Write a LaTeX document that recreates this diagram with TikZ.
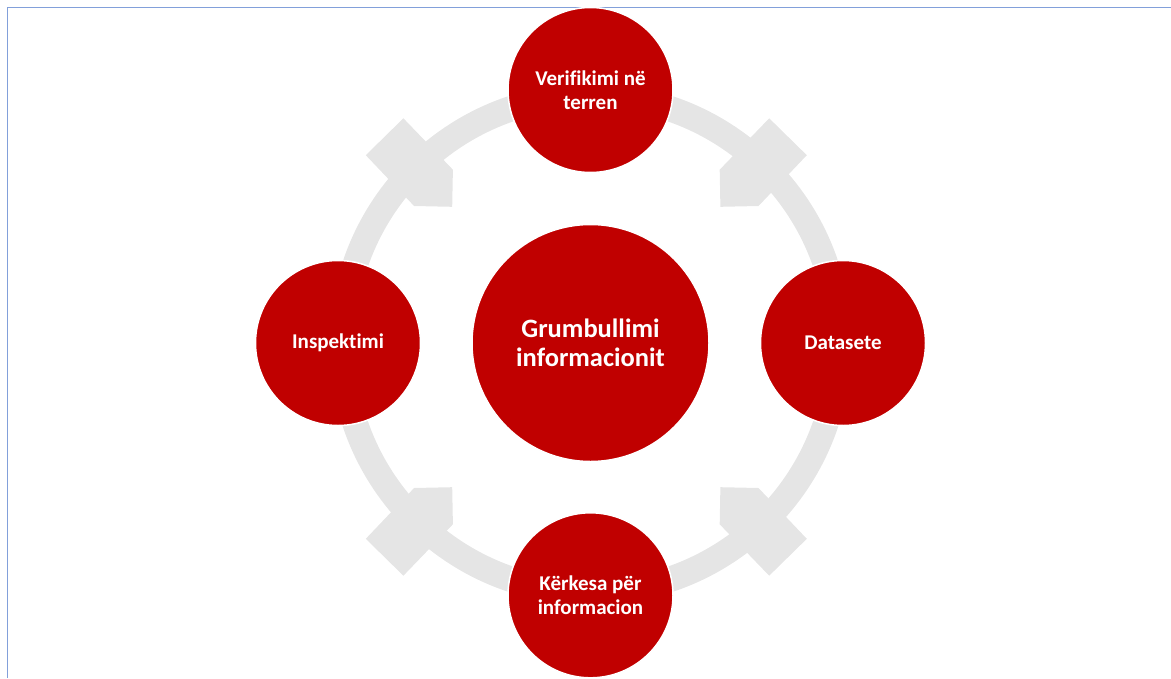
\documentclass[tikz,border=0pt]{standalone}
\usepackage{fontspec}
\setmainfont[Ligatures={NoCommon}]{Carlito}
\definecolor{nodered}{RGB}{192,0,0}
\definecolor{ringgray}{RGB}{229,229,229}
\definecolor{framecol}{RGB}{130,160,218}
\begin{document}
\begin{tikzpicture}[x=1pt,y=-1pt,
  sat/.style={circle, fill=nodered, draw=white, line width=1.5pt, minimum size=165pt, inner sep=0pt, text=white, align=center, font=\bfseries\fontsize{21}{24.5}\selectfont},
  hub/.style={circle, fill=nodered, draw=white, line width=1.5pt, minimum size=237pt, inner sep=0pt, text=white, align=center, font=\bfseries\fontsize{26.5}{29}\selectfont},
  headshape/.style={fill=ringgray}]
\useasboundingbox (0,0) rectangle (1171,678);
\draw[framecol, line width=1.2pt] (7.3,678) -- (7.3,7.3) -- (1171,7.3);
% ring
\draw[ringgray, line width=25.5pt] (590.5,344) circle[radius=248.3pt];
% heads
\foreach \sx/\sy in {1/1,-1/1,1/-1,-1/-1}{
  \fill[headshape, shift={(586.3,347)}, xscale=\sx, yscale=\sy]
    (-134.1,-140.2) -- (-172.2,-141) -- (-220.5,-191.8) -- (-182.9,-228.7) -- (-133.4,-177.3) -- cycle;
}
% nodes
\node[hub] (hub) at (590.5,343) {Grumbullimi\\informacionit};
\node[sat] (top) at (590.5,90) {Verifikimi në\\terren};
\node[sat] (right) at (843,343) {Datasete};
\node[sat] (bottom) at (590.5,595.3) {Kërkesa për\\informacion};
\node[sat] (left) at (338,343) {Inspektimi};
\end{tikzpicture}
\end{document}
